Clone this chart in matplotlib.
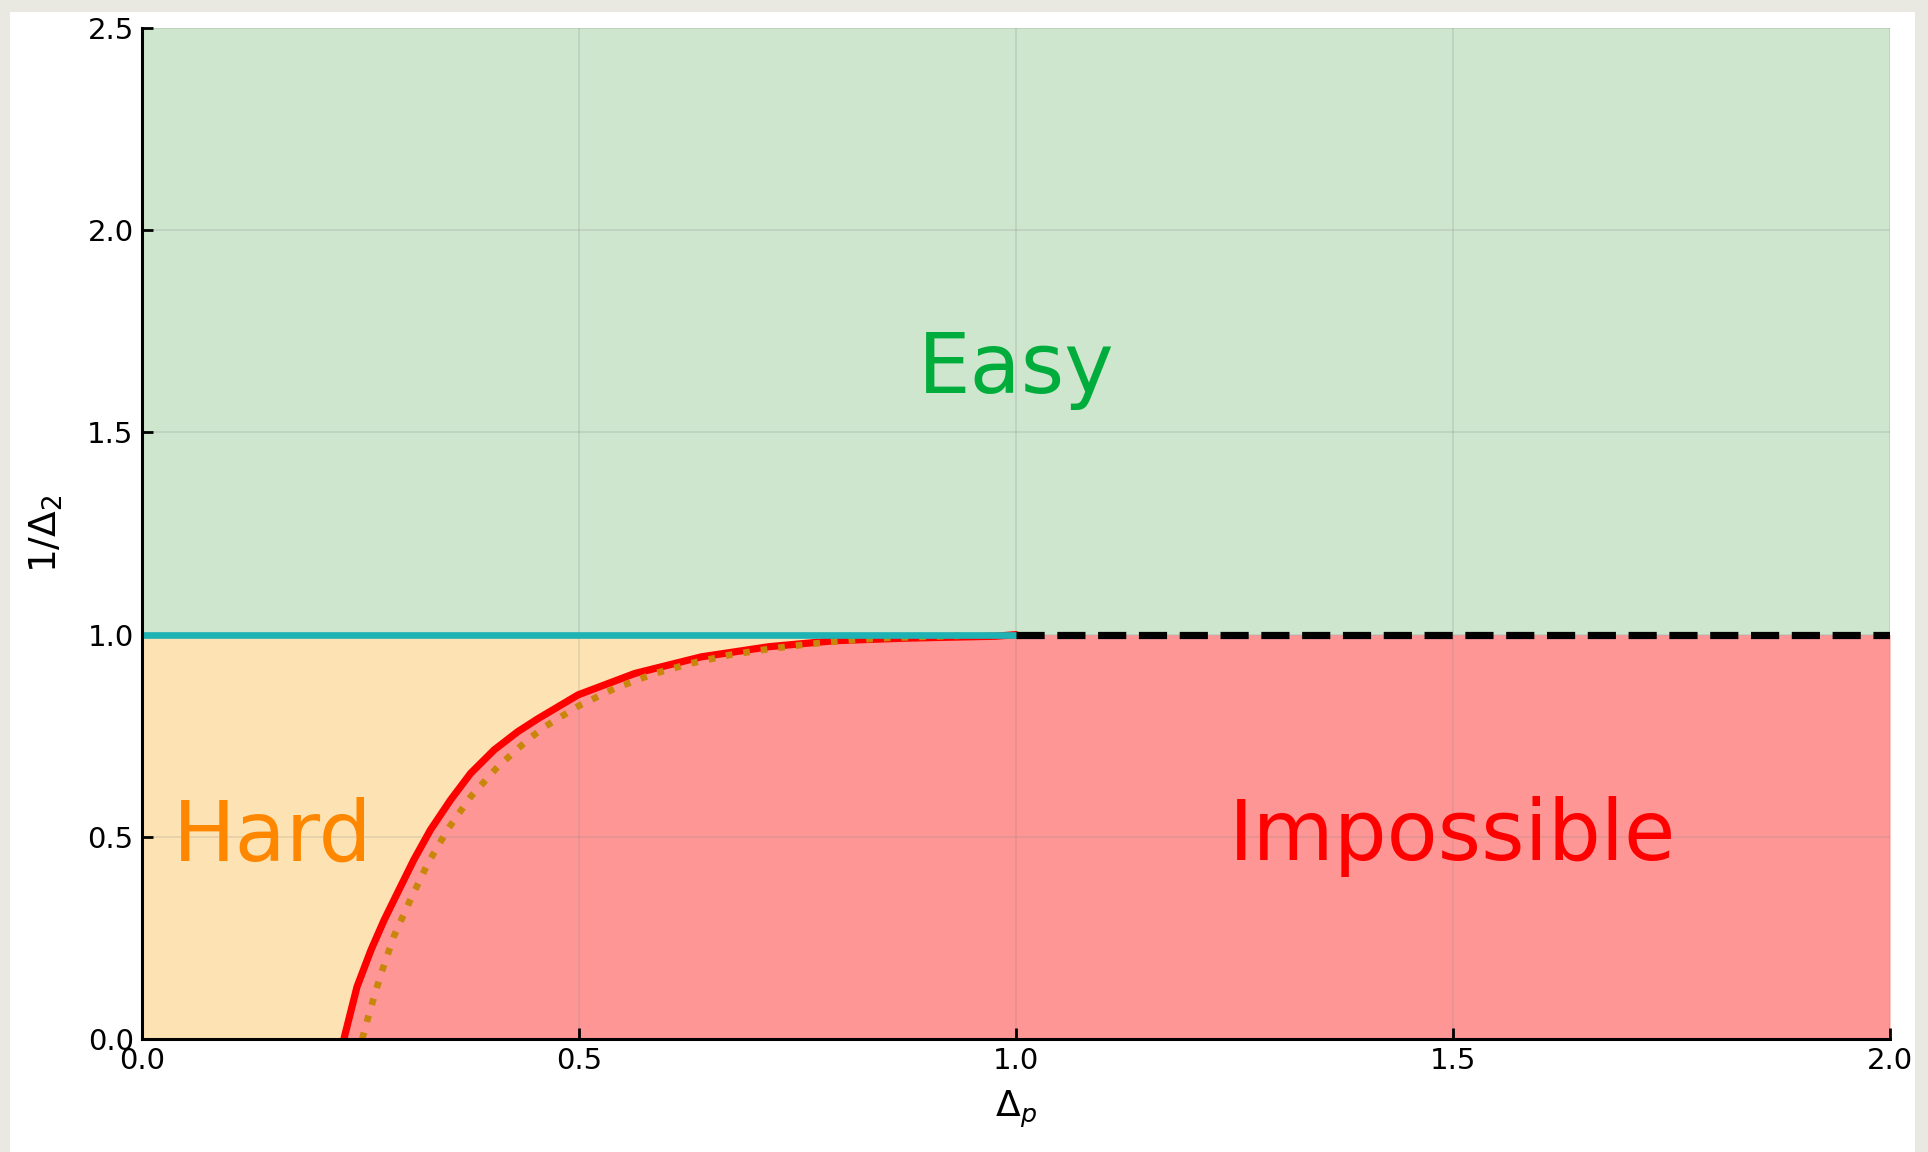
import matplotlib
matplotlib.use("Agg")
import matplotlib.pyplot as plt
from matplotlib.patches import Rectangle

# boundary: Delta_p vs 1/Delta_2
red_x = [0.231, 0.246, 0.262, 0.277, 0.292, 0.311, 0.330, 0.353, 0.376, 0.403, 0.430,
         0.453, 0.499, 0.564, 0.640, 0.717, 0.793, 0.870, 0.977, 1.0]
red_y = [0.0, 0.129, 0.220, 0.294, 0.360, 0.443, 0.517, 0.591, 0.657, 0.715, 0.760,
         0.792, 0.851, 0.904, 0.945, 0.970, 0.985, 0.991, 0.996, 1.0]

dot_x = [0.252, 0.260, 0.273, 0.288, 0.307, 0.327, 0.350, 0.376, 0.407, 0.441, 0.460,
         0.499, 0.541, 0.584, 0.628, 0.673, 0.719, 0.765, 0.810, 0.856, 0.902, 0.935]
dot_y = [0.0, 0.064, 0.158, 0.253, 0.344, 0.434, 0.519, 0.599, 0.673, 0.739, 0.771,
         0.823, 0.867, 0.902, 0.929, 0.950, 0.965, 0.977, 0.986, 0.992, 0.995, 0.997]

x_ticks = [0.0, 0.5, 1.0, 1.5, 2.0]
y_ticks = [0.0, 0.5, 1.0, 1.5, 2.0, 2.5]

fig = plt.figure(figsize=(9.64, 5.76), dpi=200, facecolor='#e9e8e1')
fig.patches.append(Rectangle((10 / 1928, 0), 1905 / 1928, 1 - 12 / 1152,
                             transform=fig.transFigure, facecolor='white',
                             edgecolor='none', zorder=-10))
ax = fig.add_axes([142 / 1928, 1 - 1039 / 1152, 1748 / 1928, 1011 / 1152])
ax.set_facecolor('none')

# regions
ax.fill_between([0, 2], 1, 2.5, color='#cee5ce', lw=0, zorder=1)
ax.fill_betweenx([0] + red_y, 0, [red_x[0]] + red_x, color='#fde3b3', lw=0, zorder=1)
ax.fill_betweenx([0] + red_y, [red_x[0]] + red_x, 2, color='#ff9696', lw=0, zorder=1)

ax.plot(red_x, red_y, color='red', lw=2.6, solid_capstyle='round',
        solid_joinstyle='round', zorder=3)
ax.plot(dot_x, dot_y, color='#c8860a', lw=2.4, linestyle=':', zorder=3)
ax.plot([0, 1], [1, 1], color='#1db2b4', lw=2.4, zorder=4)
ax.plot([1, 2], [1, 1], color='black', lw=2.6, dashes=(3.9, 1.75), zorder=4)

ax.text(1.0, 1.655, 'Easy', color='#00ad3c', fontsize=30, ha='center', va='center', zorder=5)
ax.text(0.15, 0.5, 'Hard', color='#ff8700', fontsize=30, ha='center', va='center', zorder=5)
ax.text(1.5, 0.5, 'Impossible', color='red', fontsize=30, ha='center', va='center', zorder=5)

ax.set_xlim(0, 2)
ax.set_ylim(0, 2.5)
ax.set_xticks(x_ticks)
ax.set_yticks(y_ticks)
ax.set_xticklabels(['%.1f' % t for t in x_ticks])
ax.set_yticklabels(['%.1f' % t for t in y_ticks])
ax.tick_params(direction='in', length=4, width=1, labelsize=10.5, pad=3)
ax.grid(True, color='gray', alpha=0.2, lw=0.6)
ax.set_axisbelow(False)

for s in ['top', 'right']:
    ax.spines[s].set_visible(False)
for s in ['left', 'bottom']:
    ax.spines[s].set_linewidth(1.1)
    ax.spines[s].set_zorder(6)

ax.set_xlabel(r'$\Delta_p$', fontsize=13, labelpad=5)
ax.set_ylabel(r'$1/\Delta_2$', fontsize=13.5, labelpad=8)

fig.savefig('out.png', dpi=200, facecolor=fig.get_facecolor())
